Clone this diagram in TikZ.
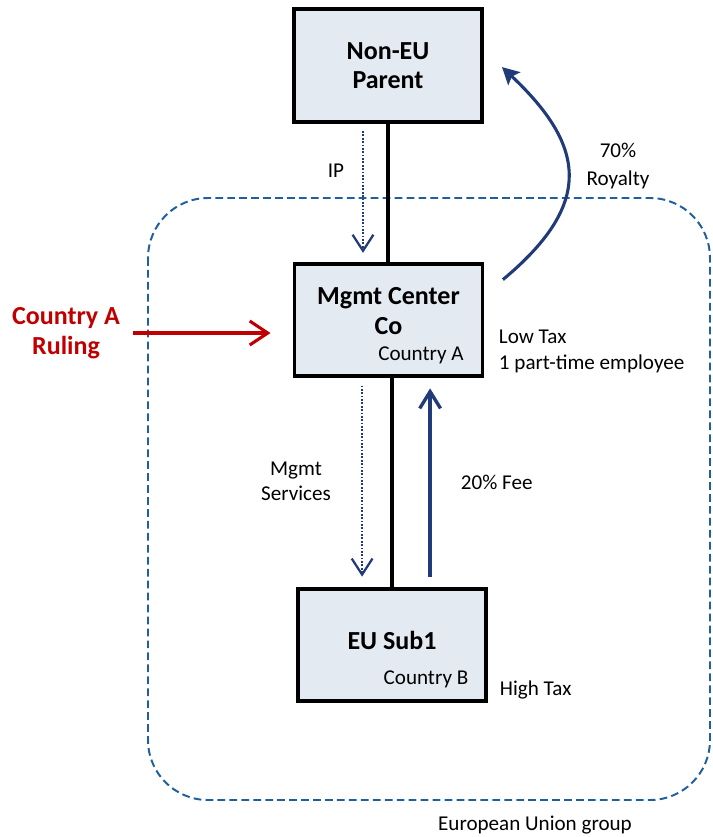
\documentclass[tikz,border=0pt]{standalone}
\usepackage{fontspec}
\setmainfont{Carlito}
\usepackage{tikz}
\usetikzlibrary{positioning, arrows.meta, calc}
\definecolor{boxfill}{HTML}{E4EAF2}
\definecolor{flownavy}{HTML}{203B78}
\definecolor{eublue}{HTML}{1F5F9E}
\definecolor{rulingred}{HTML}{C00000}

\begin{document}
\begin{tikzpicture}[x=0.025cm, y=-0.025cm,
  entity/.style={rectangle, draw=black, line width=2.8pt, fill=boxfill, minimum width=4.7cm, minimum height=2.82cm, inner sep=0pt},
  title/.style={font=\fontsize{18.5}{21}\selectfont\bfseries, align=center},
  note/.style={font=\fontsize{15}{18.5}\selectfont},
  link/.style={draw=black, line width=2.3pt},
  dotflow/.style={draw=flownavy, line width=1.6pt, dash pattern=on 1.2pt off 1.2pt, -{Straight Barb[length=0.4cm, width=0.52cm, line width=1.6pt]}},
  feeflow/.style={draw=flownavy, line width=2.4pt, -{Straight Barb[length=0.42cm, width=0.52cm, line width=2.4pt]}},
  rulingflow/.style={draw=rulingred, line width=2.2pt, -{Straight Barb[length=0.45cm, width=0.6cm, line width=2.2pt]}},
  royaltyflow/.style={draw=flownavy, line width=2.2pt, -{Stealth[length=0.42cm, width=0.44cm, inset=0.08cm]}},
  euline/.style={draw=eublue, line width=1.4pt, dash pattern=on 5.5pt off 3pt, rounded corners=1.5cm}
]
  \useasboundingbox (0,0) rectangle (712,837);

  % EU group boundary
  \draw[euline] (148,198) rectangle (710,800);
  \node[note] (eugroup) at (535,825) {European Union group};

  % Entities
  \node[entity, title] (parent) at (388,65.5) {Non-EU\\Parent};

  \node[entity] (mgmt) at (388.5,320) {};
  \node[title] (mgmtname) at (388.5,311) {Mgmt Center\\Co};
  \node[note] (mgmtland) at (421,355) {Country A};

  \node[entity] (sub) at (392,645) {};
  \node[title] (subname) at (392,640) {EU Sub1};
  \node[note] (subland) at (426,679) {Country B};

  % Ruling
  \node[title, text=rulingred] (ruling) at (66,333) {Country A\\Ruling};
  \draw[rulingflow, shorten <=0.2cm, shorten >=0.55cm] (ruling.east) -- (ruling.east -| mgmt.west);

  % Tax notes
  \node[note, anchor=west, align=left] (lowtax) at (494,351) {Low Tax\\1 part-time employee};
  \node[note, anchor=west] (hightax) at (495,690) {High Tax};

  % Ownership lines
  \draw[link] (parent.south) -- (parent.south |- mgmt.north);
  \draw[link] (sub.north |- mgmt.south) -- (sub.north);

  % IP flow
  \coordinate (ipsrc) at ([xshift=-0.625cm]parent.south);
  \draw[dotflow, shorten <=0.18cm, shorten >=0.22cm] (ipsrc) -- (ipsrc |- mgmt.north);
  \node[note] (iplabel) at (336,171) {IP};

  % Royalty flow
  \coordinate (roystart) at ([xshift=0.46cm, yshift=-0.45cm]mgmt.north east);
  \coordinate (royend) at ([xshift=0.45cm, yshift=-0.04cm]parent.east);
  \draw[royaltyflow] (roystart) .. controls +(90,-75) and +(85,80) .. (royend);
  \node[note, align=center, font=\fontsize{15}{20}\selectfont] (royalty) at (618,166) {70\%\\Royalty};

  % Services and fee flows
  \coordinate (svcsrc) at ([xshift=-0.66cm]mgmt.south);
  \draw[dotflow, shorten <=0.18cm, shorten >=0.25cm] (svcsrc) -- (svcsrc |- sub.north);
  \node[note, align=center, font=\fontsize{15}{18}\selectfont] (services) at (296,481) {Mgmt\\Services};

  \coordinate (feesrc) at ([xshift=1.04cm]mgmt.south);
  \draw[feeflow, shorten <=0.25cm, shorten >=0.25cm] (feesrc |- sub.north) -- (feesrc);
  \node[note, anchor=west] (fee) at (456,482) {20\% Fee};
\end{tikzpicture}
\end{document}
